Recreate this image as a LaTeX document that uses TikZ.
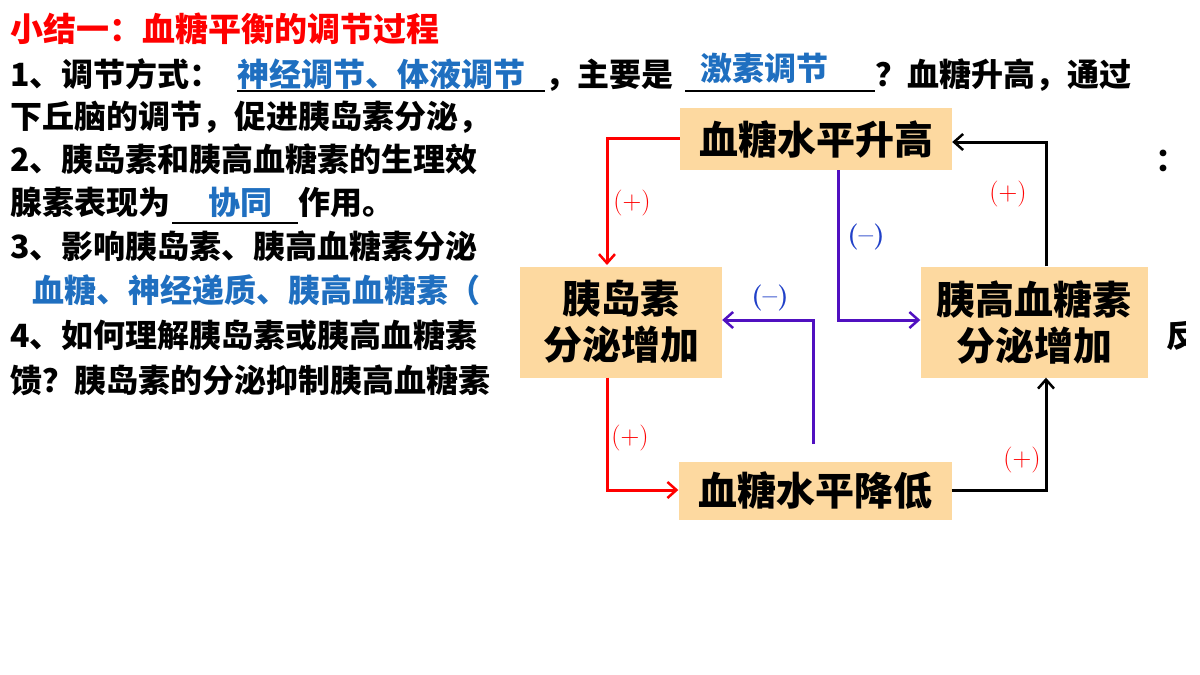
\documentclass[tikz,border=0pt]{standalone}
\usepackage{fontspec}
\usetikzlibrary{arrows.meta}
\newfontfamily\cjk{Noto Sans CJK SC}
\definecolor{boxfill}{HTML}{FDD9A0}
\definecolor{ansblue}{HTML}{1F6FC0}
\definecolor{purp}{HTML}{5010C0}
\definecolor{minusblue}{HTML}{2040C8}
\begin{document}
\begin{tikzpicture}[x=1pt,y=-1pt,
  txt/.style={inner sep=0pt,anchor=base west,font=\cjk\bfseries\fontsize{32}{32}\selectfont},
  boxn/.style={fill=boxfill,inner sep=0pt,align=center,font=\cjk\bfseries\fontsize{39}{46}\selectfont},
  conn/.style={line width=3pt,-{Straight Barb[length=9pt,width=16pt,line width=2.5pt]}},
  plus/.style={text=red,font=\fontsize{26}{26}\selectfont},
  minus/.style={text=minusblue,font=\bfseries\fontsize{26}{26}\selectfont}]
\useasboundingbox (0,0) rectangle (1200,675);
\fill[white] (0,0) rectangle (1200,675);
% title and line 1
\node[txt,text=red,font=\cjk\bfseries\fontsize{33}{33}\selectfont] (title) at (10,41) {小结一：血糖平衡的调节过程};
\node[txt] (l1a) at (10,86) {1、调节方式：};
\node[txt,text=ansblue] (l1b) at (237,86) {神经调节、体液调节};
\draw[line width=1.5pt] (237,91) -- (545,91);
\node[txt] (l1c) at (545,86) {，主要是};
\draw[line width=1.5pt] (685,91) -- (875,91);
\node[txt,text=ansblue] (l1d) at (700,80) {激素调节};
\node[txt] (l1e) at (875,86) {？血糖升高，通过};
% clipped lines
\begin{scope}
\clip (0,95) rectangle (515,410);
\node[txt] (l2) at (10,128) {下丘脑的调节，促进胰岛素分泌，};
\node[txt] (l3) at (10,171) {2、胰岛素和胰高血糖素的生理效};
\node[txt] (l4a) at (10,214) {腺素表现为};
\draw[line width=1.5pt] (172,223) -- (298,223);
\node[txt,text=ansblue] (l4b) at (208,214) {协同};
\node[txt] (l4c) at (298,214) {作用。};
\node[txt] (l5) at (10,258) {3、影响胰岛素、胰高血糖素分泌};
\node[txt,text=ansblue] (l6) at (32,302) {血糖、神经递质、胰高血糖素（};
\node[txt] (l7) at (10,347) {4、如何理解胰岛素或胰高血糖素};
\node[txt] (l8) at (10,392) {馈？胰岛素的分泌抑制胰高血糖素};
\end{scope}
\node[txt] (colon) at (1155,171) {：};
\begin{scope}
\clip (1160,300) rectangle (1185,370);
\node[txt] (fan) at (1166,347) {反};
\end{scope}
% boxes
\node[boxn,minimum width=272pt,minimum height=62pt] (up) at (816,139) {血糖水平升高};
\node[boxn,minimum width=202pt,minimum height=111pt] (ins) at (621,322) {胰岛素\\分泌增加};
\node[boxn,minimum width=227pt,minimum height=111pt] (glu) at (1034,322) {胰高血糖素\\分泌增加};
\node[boxn,minimum width=273pt,minimum height=58pt] (down) at (815,491) {血糖水平降低};
% helper coordinates
\coordinate (xl) at (607,0);
\coordinate (xr) at (1046,0);
\coordinate (ymid) at (0,320);
\coordinate (ylow) at (0,490);
\coordinate (ytop) at (0,142);
\coordinate (c1) at (607,138);
\coordinate (c2) at (813,444);
\coordinate (c3) at (838,170);
% connectors
\draw[conn,red] (up.west|-c1) -- (c1) -- (607,265);
\node[plus] (p1) at (632,203) {(+)};
\draw[conn,purp] (c3) -- (c3|-ymid) -- (glu.west|-ymid);
\node[minus] (m1) at (866,237) {(\textbf{–})};
\draw[conn,purp] (c2) -- (c2|-ymid) -- (ins.east|-ymid);
\node[minus] (m2) at (770,298) {(\textbf{–})};
\draw[conn,red] (xl|-ins.south) -- (xl|-ylow) -- (down.west|-ylow);
\node[plus] (p2) at (630,438) {(+)};
\draw[conn,black] (down.east|-ylow) -- (xr|-ylow) -- (xr|-glu.south);
\node[plus] (p3) at (1022,460) {(+)};
\draw[conn,black] (xr|-glu.north) -- (xr|-ytop) -- (up.east|-ytop);
\node[plus] (p4) at (1008,194) {(+)};
\end{tikzpicture}
\end{document}
